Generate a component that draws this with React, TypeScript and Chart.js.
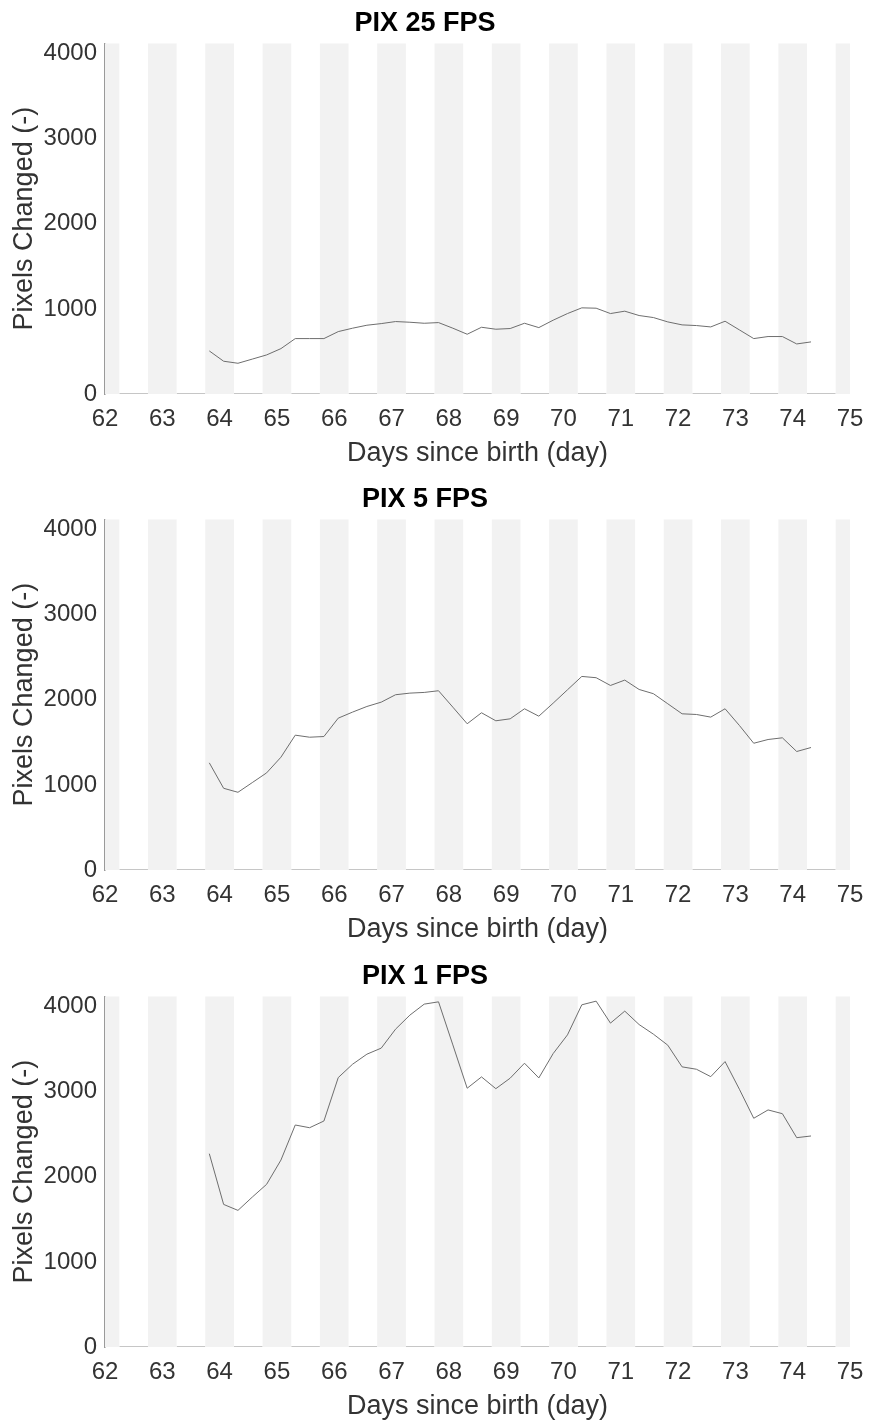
import React, { useEffect, useRef } from 'react';
import { Chart, registerables } from 'chart.js';

Chart.register(...registerables);

// ---- data ----
const DAYS = [
  63.82, 64.07, 64.32, 64.57, 64.82, 65.07, 65.32, 65.57, 65.82, 66.07, 66.32,
  66.57, 66.82, 67.07, 67.32, 67.57, 67.82, 68.07, 68.32, 68.57, 68.82, 69.07,
  69.32, 69.57, 69.82, 70.07, 70.32, 70.57, 70.82, 71.07, 71.32, 71.57, 71.82,
  72.07, 72.32, 72.57, 72.82, 73.07, 73.32, 73.57, 73.82, 74.07, 74.32,
];

const PIX25 = [
  506, 385, 361, 410, 459, 533, 651, 651, 651, 733, 773, 808, 827, 851, 843,
  831, 839, 773, 702, 784, 761, 769, 831, 780, 867, 945, 1012, 1008, 945, 973,
  922, 898, 847, 812, 804, 788, 855, 753, 651, 675, 675, 588, 612,
];

const PIX5 = [
  1259, 960, 913, 1027, 1141, 1325, 1584, 1560, 1568, 1784, 1855, 1921, 1972,
  2059, 2078, 2086, 2106, 1913, 1718, 1847, 1753, 1776, 1894, 1807, 1960, 2117,
  2274, 2259, 2168, 2231, 2121, 2071, 1953, 1835, 1827, 1796, 1894, 1698, 1489,
  1533, 1553, 1392, 1439,
];

const PIX1 = [
  2271, 1675, 1605, 1761, 1911, 2196, 2608, 2576, 2655, 3165, 3322, 3440, 3511,
  3734, 3899, 4028, 4055, 3549, 3040, 3173, 3035, 3158, 3334, 3161, 3447, 3667,
  4020, 4063, 3805, 3946, 3788, 3675, 3546, 3291, 3263, 3176, 3353, 3028, 2687,
  2785, 2741, 2459, 2479,
];

const TITLES = ['PIX 25 FPS', 'PIX 5 FPS', 'PIX 1 FPS'];
const SERIES = [PIX25, PIX5, PIX1];

const X_TICKS = [62, 63, 64, 65, 66, 67, 68, 69, 70, 71, 72, 73, 74, 75];
const Y_TICKS = [0, 1000, 2000, 3000, 4000];

// dark (night) bands centred on each day, light periods in between
const NIGHT_CENTERS = [62, 63, 64, 65, 66, 67, 68, 69, 70, 71, 72, 73, 74, 75];
const LIGHT_START = [62.25, 63.25, 64.25, 65.25, 66.25, 67.25, 68.25, 69.25, 70.25, 71.25, 72.25, 73.25, 74.25];
const LIGHT_END = [62.75, 63.75, 64.75, 65.75, 66.75, 67.75, 68.75, 69.75, 70.75, 71.75, 72.75, 73.75, 74.75];

const X_MIN = 62;
const X_MAX = 75;
const Y_MIN = 0;
const Y_MAX = 4120;

const X_LABEL = 'Days since birth (day)';
const Y_LABEL = 'Pixels Changed (-)';

// ---- layout ----
const FONT = "'Liberation Sans', Arial, Helvetica, sans-serif";
const PANEL_TOPS = [0, 476, 953];
const PANEL_HEIGHTS = [478, 478, 472];
const WIDTH = 869;

function Panel({ title, values, top, height }: { title: string; values: number[]; top: number; height: number }) {
  const ref = useRef<HTMLCanvasElement | null>(null);

  useEffect(() => {
    if (!ref.current) return;
    const zero: any[] = [];
    LIGHT_START.forEach((s, i) => {
      zero.push({ x: s, y: 0 }, { x: LIGHT_END[i], y: 0 }, { x: LIGHT_END[i], y: null });
    });

    const chart = new Chart(ref.current, {
      type: 'line',
      data: {
        datasets: [
          {
            type: 'line',
            data: DAYS.map((d, i) => ({ x: d, y: values[i] })),
            borderColor: '#6e6e6e',
            borderWidth: 1,
            pointRadius: 0,
            tension: 0,
            fill: false,
            order: 0,
          } as any,
          {
            type: 'bar',
            data: NIGHT_CENTERS.map((d) => ({ x: d, y: Y_MAX })),
            backgroundColor: '#f2f2f2',
            borderWidth: 0,
            categoryPercentage: 0.5,
            barPercentage: 1,
            order: 1,
          } as any,
          {
            type: 'line',
            data: zero,
            borderColor: '#8c8c8c',
            borderWidth: 1,
            pointRadius: 0,
            spanGaps: false,
            fill: false,
            order: 2,
          } as any,
        ],
      },
      options: {
        responsive: false,
        animation: false,
        devicePixelRatio: 1,
        events: [],
        layout: { padding: { left: 0, right: 19, top: 0, bottom: height - 470.2 } },
        plugins: {
          legend: { display: false },
          tooltip: { enabled: false },
          title: {
            display: true,
            text: title,
            color: '#000',
            font: { family: FONT, size: 27, weight: 'bold' },
            padding: { top: 7.5, bottom: 3.4 },
          },
        },
        scales: {
          x: {
            type: 'linear',
            min: X_MIN,
            max: X_MAX,
            offset: false,
            grid: { display: false, drawTicks: false },
            border: { display: false },
            afterBuildTicks: (s: any) => {
              s.ticks = X_TICKS.map((v) => ({ value: v }));
            },
            afterFit: (s: any) => {
              s.paddingLeft = 0;
              s.paddingRight = 0;
            },
            ticks: {
              color: '#333',
              font: { family: FONT, size: 24 },
              padding: 11,
              maxRotation: 0,
              autoSkip: false,
              callback: (v: any) => String(v),
            },
            title: {
              display: true,
              text: X_LABEL,
              color: '#333',
              font: { family: FONT, size: 27 },
              padding: { top: -7, bottom: 0 },
            },
          },
          y: {
            type: 'linear',
            min: Y_MIN,
            max: Y_MAX,
            grid: { display: false, drawTicks: false },
            border: { display: true, color: '#9a9a9a', width: 1.5 },
            afterBuildTicks: (s: any) => {
              s.ticks = Y_TICKS.map((v) => ({ value: v }));
            },
            afterFit: (s: any) => {
              s.width = 105;
            },
            ticks: {
              color: '#333',
              font: { family: FONT, size: 24 },
              padding: 8,
              callback: (v: any) => String(v),
            },
            title: {
              display: true,
              text: Y_LABEL,
              color: '#333',
              font: { family: FONT, size: 27 },
              padding: { top: 8, bottom: 0 },
            },
          },
        },
      } as any,
    });
    return () => chart.destroy();
  }, [title, values, height]);

  return (
    <canvas
      ref={ref}
      width={WIDTH}
      height={height}
      style={{ position: 'absolute', left: 0, top, width: WIDTH, height, display: 'block' }}
    />
  );
}

export default function App() {
  return (
    <div
      style={{
        position: 'fixed',
        left: 0,
        top: 0,
        width: WIDTH,
        height: 1423,
        overflow: 'hidden',
        background: '#fff',
      }}
    >
      {TITLES.map((t, i) => (
        <Panel key={t} title={t} values={SERIES[i]} top={PANEL_TOPS[i]} height={PANEL_HEIGHTS[i]} />
      ))}
    </div>
  );
}
